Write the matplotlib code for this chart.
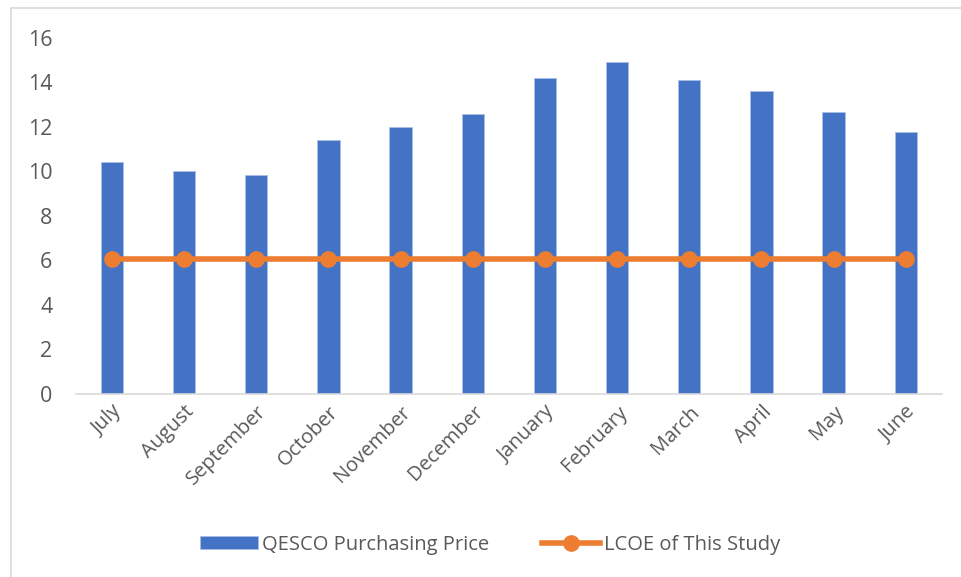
import matplotlib.pyplot as plt
from matplotlib.patches import Rectangle

plt.rcParams['font.family'] = ['Open Sans', 'DejaVu Sans']

months = ["July", "August", "September", "October", "November", "December",
          "January", "February", "March", "April", "May", "June"]
qesco_price = [10.40, 10.0, 9.81, 11.39, 11.97, 12.56,
               14.20, 14.92, 14.09, 13.62, 12.66, 11.75]
lcoe = [6.06] * 12

text_col = '#595959'

fig = plt.figure(figsize=(9.61, 5.77), dpi=100)
ax = fig.add_axes([0.079, 0.318, 0.901, 0.6165])

x = range(len(months))
bars = ax.bar(x, qesco_price, width=0.31, color='#4472C4', edgecolor='#A9BEE6',
              linewidth=0.6, label='QESCO Purchasing Price', zorder=2)
line, = ax.plot(x, lcoe, color='#ED7D31', linewidth=4, marker='o', markersize=11,
                label='LCOE of This Study', zorder=3)

ax.set_xlim(-0.5, 11.5)
ax.set_ylim(0, 16)
ax.set_yticks(range(0, 17, 2))
ax.set_xticks(list(x))
ax.set_xticklabels(months, rotation=45, ha='right', rotation_mode='anchor')
ax.tick_params(axis='both', length=0, colors=text_col, labelsize=14.5)
ax.tick_params(axis='y', labelsize=15.5, pad=17)
ax.tick_params(axis='x', pad=6)

for side in ['top', 'right', 'left']:
    ax.spines[side].set_visible(False)
ax.spines['bottom'].set_color('#D9D9D9')
ax.spines['bottom'].set_linewidth(1.2)

fig.legend([bars, line], ['QESCO Purchasing Price', 'LCOE of This Study'],
           loc='center', bbox_to_anchor=(0.51, 0.0555), ncol=2, frameon=False,
           fontsize=14.5, labelcolor=text_col, handlelength=2.9, handleheight=0.6,
           handletextpad=0.2, columnspacing=2.6)

# chart border
fig.patches.append(Rectangle((11 / 961, -0.1), 1.2, 1 - 8 / 577 + 0.1,
                             transform=fig.transFigure, fill=False,
                             edgecolor='#D9D9D9', linewidth=1.2))

fig.savefig('out.png', dpi=100)
